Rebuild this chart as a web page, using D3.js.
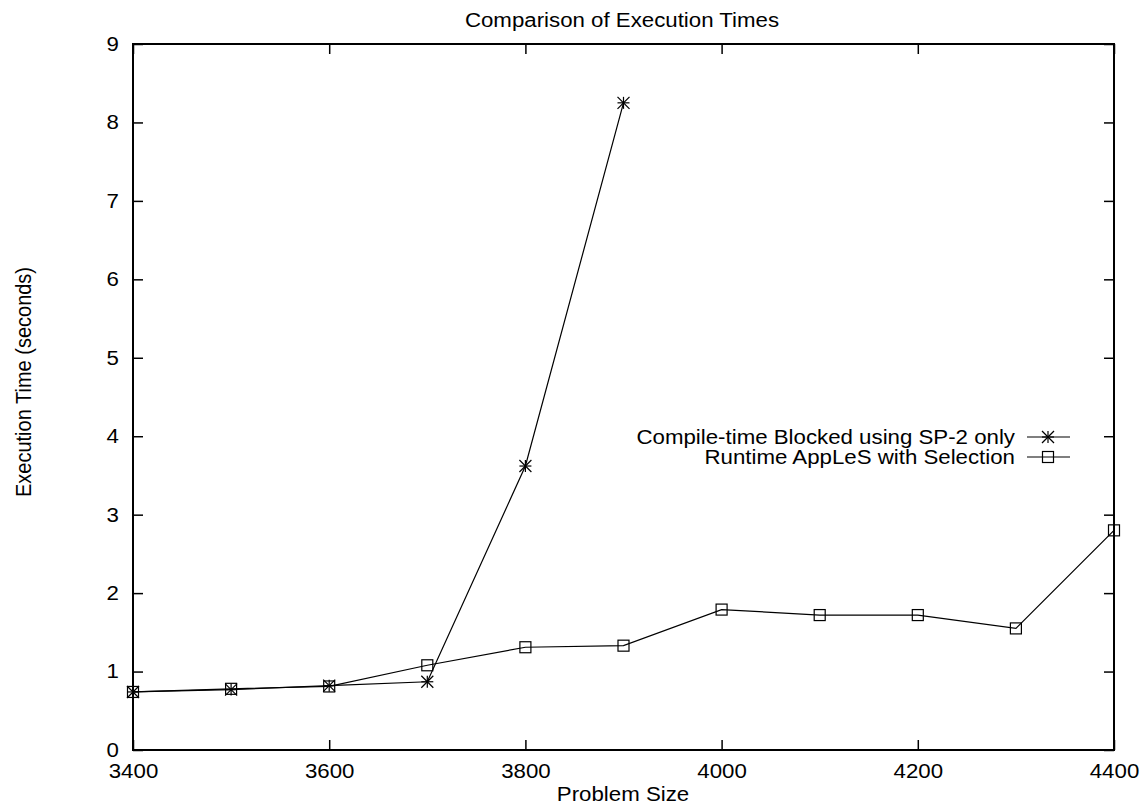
<!DOCTYPE html>
<html><head><meta charset="utf-8">
<script src="https://cdn.jsdelivr.net/npm/d3@7"></script>
<style>
body{margin:0;background:#fff;}
text{font-family:"Liberation Sans",Arial,Helvetica,sans-serif;fill:#000;}
</style></head>
<body>
<svg id="c" width="1143" height="808"></svg>
<script>
const problemSizes = [3400,3500,3600,3700,3800,3900,4000,4100,4200,4300,4400];
const compileTimeSizes = [3400,3500,3600,3700,3800,3900];
const compileTimeValues = [0.74,0.77,0.82,0.87,3.62,8.25];
const runtimeValues = [0.74,0.78,0.81,1.08,1.31,1.33,1.79,1.72,1.72,1.55,2.80];
const xTicks = [3400,3600,3800,4000,4200,4400];
const yTicks = [0,1,2,3,4,5,6,7,8,9];
const seriesNames = ["Compile-time Blocked using SP-2 only","Runtime AppLeS with Selection"];
const titleText = "Comparison of Execution Times";
const xLabel = "Problem Size";
const yLabel = "Execution Time (seconds)";

const svg = d3.select("#c");
const L=133, R=1114, T=44, B=750;
const x = d3.scaleLinear().domain([3400,4400]).range([L,R]);
const y = d3.scaleLinear().domain([0,9]).range([B,T]);
const fs = 20, sx = 1.113;
const FONT = "Liberation Sans, Arial, sans-serif";

const tl = 10;
const g = svg.append("g");
g.append("g").attr("transform",`translate(0,${B})`)
  .call(d3.axisBottom(x).tickValues(xTicks).tickSize(-tl).tickFormat(d3.format("d")).tickPadding(14))
  .call(s=>{s.select(".domain").remove(); s.selectAll("line").attr("stroke","#000").attr("stroke-width",1.5);
    s.selectAll("text").attr("font-size",fs).attr("font-family",FONT).attr("fill","#000").attr("transform",`scale(${sx},1)`);});
g.append("g").attr("transform",`translate(0,${T})`)
  .call(d3.axisTop(x).tickValues(xTicks).tickSize(-tl).tickFormat(""))
  .call(s=>{s.select(".domain").remove(); s.selectAll("line").attr("stroke","#000").attr("stroke-width",1.5);});
g.append("g").attr("transform",`translate(${L},0)`)
  .call(d3.axisLeft(y).tickValues(yTicks).tickSize(-tl).tickFormat(d3.format("d")).tickPadding(14))
  .call(s=>{s.select(".domain").remove(); s.selectAll("line").attr("stroke","#000").attr("stroke-width",1.5);
    s.selectAll("text").attr("font-size",fs).attr("font-family",FONT).attr("fill","#000")
      .attr("x",-14/sx).attr("transform",`scale(${sx},1)`);});
g.append("g").attr("transform",`translate(${R},0)`)
  .call(d3.axisRight(y).tickValues(yTicks).tickSize(-tl).tickFormat(""))
  .call(s=>{s.select(".domain").remove(); s.selectAll("line").attr("stroke","#000").attr("stroke-width",1.5);});

svg.append("rect").attr("x",L).attr("y",T).attr("width",R-L).attr("height",B-T)
  .attr("fill","none").attr("stroke","#000").attr("stroke-width",2);

function label(px,py,rot,anchor,txt,scx){
  return svg.append("text").attr("transform",`translate(${px},${py}) rotate(${rot}) scale(${scx},1)`)
    .attr("text-anchor",anchor).attr("font-size",fs).text(txt);
}
label(622,27,0,"middle",titleText,sx);
label(623,801,0,"middle",xLabel,sx);
svg.append("text").attr("transform",`translate(31,382) scale(${sx},1) rotate(-90)`)
  .attr("text-anchor","middle").attr("font-size",fs).text(yLabel);

const line = d3.line().x(d=>x(d[0])).y(d=>y(d[1]));
const ctData = compileTimeSizes.map((s,i)=>[s,compileTimeValues[i]]);
const rtData = problemSizes.map((s,i)=>[s,runtimeValues[i]]);

function star(sel, cx, cy){
  const r=6;
  const gg = sel.append("g").attr("stroke","#000").attr("stroke-width",1.2);
  gg.append("line").attr("x1",cx-r).attr("x2",cx+r).attr("y1",cy).attr("y2",cy);
  gg.append("line").attr("x1",cx).attr("x2",cx).attr("y1",cy-r).attr("y2",cy+r);
  gg.append("line").attr("x1",cx-r).attr("x2",cx+r).attr("y1",cy-r).attr("y2",cy+r);
  gg.append("line").attr("x1",cx-r).attr("x2",cx+r).attr("y1",cy+r).attr("y2",cy-r);
}
function square(sel, cx, cy){
  sel.append("rect").attr("x",cx-5.5).attr("y",cy-5.5).attr("width",11).attr("height",11)
    .attr("fill","none").attr("stroke","#000").attr("stroke-width",1.2);
}

svg.append("path").datum(ctData).attr("d",line).attr("fill","none").attr("stroke","#000").attr("stroke-width",1.2);
svg.append("path").datum(rtData).attr("d",line).attr("fill","none").attr("stroke","#000").attr("stroke-width",1.2);
const mk = svg.append("g");
ctData.forEach(d=>star(mk,x(d[0]),y(d[1])));
rtData.forEach(d=>square(mk,x(d[0]),y(d[1])));

const lg = svg.append("g");
const legY = [437,457];
seriesNames.forEach((n,i)=>{
  lg.append("text").attr("transform",`translate(1015,${legY[i]}) scale(${sx},1)`).attr("dy","0.35em")
    .attr("text-anchor","end").attr("font-size",fs).text(n);
  lg.append("line").attr("x1",1027).attr("x2",1070).attr("y1",legY[i]).attr("y2",legY[i]).attr("stroke","#000").attr("stroke-width",1.2);
  if(i===0) star(lg,1048,legY[i]); else square(lg,1048,legY[i]);
});
</script>
</body></html>
